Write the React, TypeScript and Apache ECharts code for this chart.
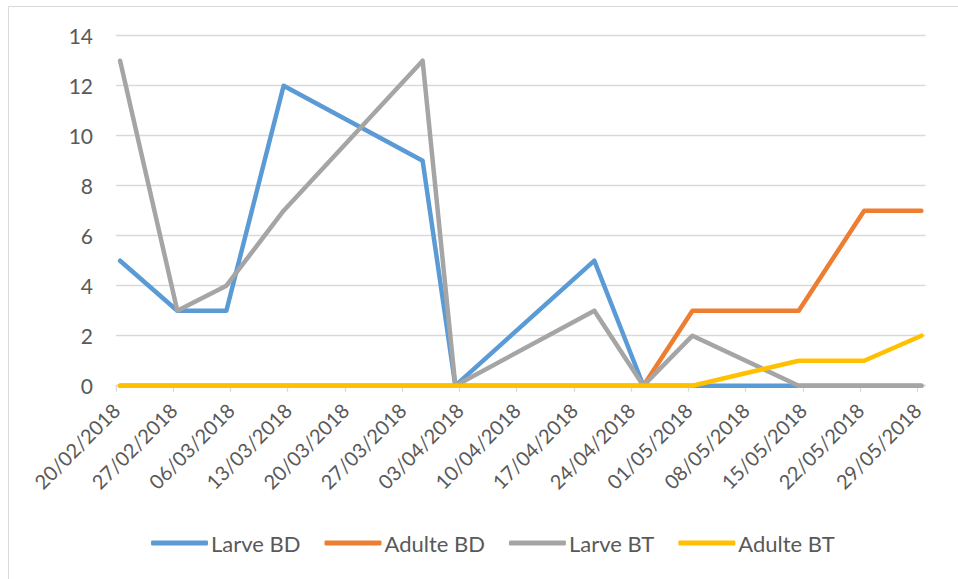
import React, { useEffect, useRef } from "react";
import * as echarts from "echarts";

const dates = [
  "20/02/2018", "27/02/2018", "05/03/2018", "12/03/2018", "29/03/2018", "02/04/2018",
  "19/04/2018", "25/04/2018", "01/05/2018", "14/05/2018", "22/05/2018", "29/05/2018",
];
const larveBD = [5, 3, 3, 12, 9, 0, 5, 0, 0, 0, 0, 0];
const adulteBD = [0, 0, 0, 0, 0, 0, 0, 0, 3, 3, 7, 7];
const larveBT = [13, 3, 4, 7, 13, 0, 3, 0, 2, 0, 0, 0];
const adulteBT = [0, 0, 0, 0, 0, 0, 0, 0, 0, 1, 1, 2];
const xTickLabels = [
  "20/02/2018", "27/02/2018", "06/03/2018", "13/03/2018", "20/03/2018", "27/03/2018",
  "03/04/2018", "10/04/2018", "17/04/2018", "24/04/2018", "01/05/2018", "08/05/2018",
  "15/05/2018", "22/05/2018", "29/05/2018",
];
const axisStart = "20/02/2018";
const axisEnd = "30/05/2018";
const yTicks = [0, 2, 4, 6, 8, 10, 12, 14];

const DAY = 86400000;
const parse = (s: string) => {
  const [d, m, y] = s.split("/").map(Number);
  return Date.UTC(y, m - 1, d);
};
const base = parse(axisStart);
const offset = (s: string) => Math.round((parse(s) - base) / DAY);
const fmt = (v: number) => {
  const dt = new Date(base + Math.round(v) * DAY);
  const p = (n: number) => String(n).padStart(2, "0");
  return `${p(dt.getUTCDate())}/${p(dt.getUTCMonth() + 1)}/${dt.getUTCFullYear()}`;
};

const FONT = "Lato, 'Open Sans', sans-serif";
const TXT = "#595959";

export default function App() {
  const ref = useRef<HTMLDivElement>(null);
  useEffect(() => {
    if (!ref.current) return;
    const chart = echarts.init(ref.current, null, { renderer: "svg" });
    const mk = (name: string, vals: number[], color: string) => ({
      name,
      type: "line",
      data: dates.map((d, i) => [offset(d) + 0.5, vals[i]]),
      showSymbol: false,
      symbol: "none",
      lineStyle: { color, width: 4.5, cap: "round", join: "round" },
      itemStyle: { color },
    });
    const tickVals = xTickLabels.map(offset);
    chart.setOption({
      animation: false,
      backgroundColor: "#ffffff",
      textStyle: { fontFamily: FONT },
      graphic: [
        {
          type: "rect",
          shape: { x: 8.5, y: 6.5, width: 1000, height: 1000 },
          style: { fill: "none", stroke: "#d9d9d9", lineWidth: 1 },
          silent: true,
        },
      ],
      grid: { left: 116, right: 32.5, top: 35.7, bottom: 193.3, containLabel: false },
      legend: {
        bottom: 20,
        left: 146,
        icon: "roundRect",
        itemWidth: 57,
        itemHeight: 5,
        itemGap: 24,
        textStyle: { color: TXT, fontSize: 22, fontFamily: FONT, padding: [0, 0, 0, -2] },
        data: ["Larve BD", "Adulte BD", "Larve BT", "Adulte BT"],
      },
      xAxis: {
        type: "value",
        min: offset(axisStart),
        max: offset(axisEnd),
        interval: 7,
        splitLine: { show: false },
        axisLine: { show: true, lineStyle: { color: "#d9d9d9", width: 1.3 } },
        axisTick: {
          show: true,
          length: 6,
          customValues: tickVals,
          lineStyle: { color: "#d9d9d9", width: 1.3 },
        },
        axisLabel: {
          customValues: tickVals,
          rotate: 45,
          margin: 21,
          color: TXT,
          fontSize: 20,
          fontFamily: FONT,
          formatter: (v: number) => fmt(v),
        },
      },
      yAxis: {
        type: "value",
        min: yTicks[0],
        max: yTicks[yTicks.length - 1],
        interval: 2,
        axisLine: { show: false },
        axisTick: { show: false },
        splitLine: { lineStyle: { color: "#d9d9d9", width: 1.3 } },
        axisLabel: { color: TXT, fontSize: 21, fontFamily: FONT, margin: 23 },
      },
      series: [
        mk("Larve BD", larveBD, "#5B9BD5"),
        mk("Adulte BD", adulteBD, "#ED7D31"),
        mk("Larve BT", larveBT, "#A5A5A5"),
        mk("Adulte BT", adulteBT, "#FFC000"),
      ],
    });
    return () => chart.dispose();
  }, []);
  return (
    <div
      ref={ref}
      style={{ position: "fixed", left: 0, top: 0, width: 958, height: 579, background: "#fff" }}
    />
  );
}
